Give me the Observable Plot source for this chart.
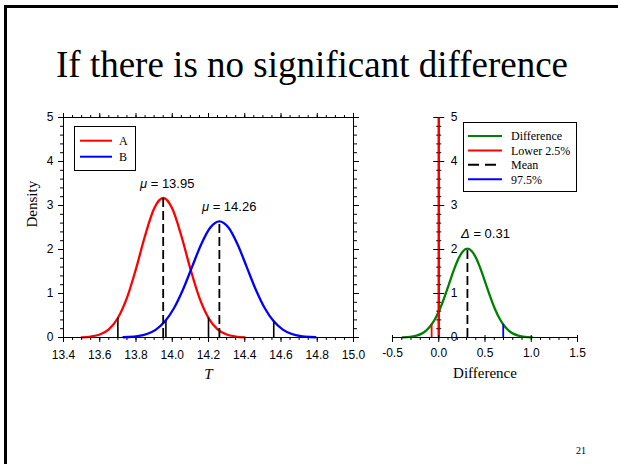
<!DOCTYPE html>
<html><head><meta charset="utf-8">
<script src="https://cdn.jsdelivr.net/npm/d3@7"></script>
<script src="https://cdn.jsdelivr.net/npm/@observablehq/plot@0.6"></script>
<style>
body{margin:0;background:#fff;}
#page{position:relative;width:618px;height:464px;overflow:hidden;background:#fff;font-family:'Liberation Serif','Times New Roman',serif;}
#frame{position:absolute;left:4px;top:5px;width:640px;height:480px;border-top:3px solid #000;border-left:3px solid #000;}
#title{position:absolute;left:3px;width:618px;top:46px;text-align:center;font-size:37px;line-height:37px;color:#000;white-space:nowrap;}
#pnum{position:absolute;left:576px;top:446px;font-size:10px;line-height:10px;color:#000;}
.plot{position:absolute;}
#legend{position:absolute;left:0;top:0;}
svg g[aria-label$="tick label"]{font-size:12px !important;font-family:'Liberation Sans',Arial,sans-serif !important;fill:#000;}
</style></head>
<body><div id="page"><div id="frame"></div><div id="title">If there is no significant difference</div><div id="pnum">21</div></div>
<script>
// ---------- data ----------
// Group A density curve
const aX = [13.50,13.55,13.60,13.65,13.70,13.75,13.80,13.85,13.90,13.95,14.00,14.05,14.10,14.15,14.20,14.25,14.30,14.35,14.40];
const aY = [0.005,0.021,0.067,0.186,0.443,0.899,1.560,2.313,2.930,3.170,2.930,2.313,1.560,0.899,0.443,0.186,0.067,0.021,0.005];
// Group B density curve
const bX = [13.73,13.76,13.81,13.86,13.91,13.96,14.01,14.06,14.11,14.16,14.21,14.26,14.31,14.36,14.41,14.46,14.51,14.56,14.61,14.66,14.71,14.76,14.79];
const bY = [0.006,0.011,0.031,0.079,0.180,0.367,0.671,1.098,1.612,2.120,2.499,2.640,2.499,2.120,1.612,1.098,0.671,0.367,0.180,0.079,0.031,0.011,0.006];
// means (dashed) and 2.5% / 97.5% limits (solid)
const meanX = [13.95, 14.26];
const meanY = [3.17, 2.64];
const ciX = [13.70, 14.20, 13.965, 14.56];
const ciY = [0.445, 0.445, 0.37, 0.37];
const muText = ["μ = 13.95", "μ = 14.26"];
const muX = [13.972, 14.314];
const muY = [3.49, 2.96];
const legendL = ["A", "B"];
const legendLColors = ["#ff0000", "#0000ff"];

// Difference density curve
const dX = [-0.39,-0.34,-0.29,-0.24,-0.19,-0.14,-0.09,-0.04,0.01,0.06,0.11,0.16,0.21,0.26,0.31,0.36,0.41,0.46,0.51,0.56,0.61,0.66,0.71,0.76,0.81,0.86,0.91,0.96,1.01];
const dY = [0.004,0.009,0.020,0.042,0.082,0.151,0.260,0.420,0.637,0.907,1.210,1.514,1.777,1.956,2.020,1.956,1.777,1.514,1.210,0.907,0.637,0.420,0.260,0.151,0.082,0.042,0.020,0.009,0.004];
const dMeanX = [0.31], dMeanY = [2.02];
const dLowerX = [-0.077], dLowerY = [0.30];
const dUpperX = [0.697], dUpperY = [0.30];
const zeroX = [0], zeroTop = [5];
const deltaText = ["Δ = 0.31"], deltaX = [0.505], deltaY = [2.36];
const legendR = ["Difference", "Lower 2.5%", "Mean", "97.5%"];
const legendRColors = ["#008000", "#ff0000", "#000000", "#0000ff"];

// ticks
const xTicksL = [13.4,13.6,13.8,14.0,14.2,14.4,14.6,14.8,15.0];
const xLabelsL = ["13.4","13.6","13.8","14.0","14.2","14.4","14.6","14.8","15.0"];
const yTicks = [0,1,2,3,4,5];
const yLabels = ["0","1","2","3","4","5"];
const xTicksR = [-0.5,0,0.5,1.0,1.5];
const xLabelsR = ["-0.5","0.0","0.5","1.0","1.5"];

// ---------- build ----------
const serif = "'Liberation Serif','Times New Roman',serif";
const sans = "'Liberation Sans',Arial,sans-serif";
const axisStyle = {fontFamily: sans, fontSize: "12px", color: "black", background: "transparent", overflow: "visible"};
const none = () => "";
const minorXL = d3.range(0, 33).map(i => +(13.4 + i * 0.05).toFixed(2));
const minorY = d3.range(0, 26).map(i => +(i * 0.2).toFixed(2));
const minorXR = d3.range(0, 21).map(i => +(-0.5 + i * 0.1).toFixed(2));

const curveA = aX.map((x, i) => ({x, y: aY[i]}));
const curveB = bX.map((x, i) => ({x, y: bY[i]}));
const curveD = dX.map((x, i) => ({x, y: dY[i]}));

const LW = 380, LH = 300;
const left = Plot.plot({
  width: LW, height: LH, marginLeft: 63, marginRight: 27, marginTop: 17, marginBottom: 63,
  x: {domain: [13.4, 15.0]}, y: {domain: [0, 5]},
  style: axisStyle,
  marks: [
    Plot.line(curveA, {x: "x", y: "y", stroke: "#ff0000", strokeWidth: 2.3, curve: "monotone-x"}),
    Plot.line(curveB, {x: "x", y: "y", stroke: "#0000ff", strokeWidth: 2.3, curve: "monotone-x"}),
    Plot.ruleX(meanX, {x: d => d, y1: 0, y2: (d, i) => meanY[i], stroke: "black", strokeWidth: 1.8, strokeDasharray: "9,4"}),
    Plot.ruleX(ciX, {x: d => d, y1: 0, y2: (d, i) => ciY[i], stroke: "black", strokeWidth: 1.6}),
    Plot.text(muText, {x: (d, i) => muX[i], y: (d, i) => muY[i], text: d => d, fontSize: 13, fontFamily: sans, fill: "black"}),
    Plot.frame({stroke: "black"}),
    Plot.axisX({ticks: xTicksL, tickSize: 5, tickPadding: 8, tickFormat: d => xLabelsL[xTicksL.indexOf(d)], label: null}),
    Plot.axisX({ticks: minorXL, tickSize: 3, tickFormat: none, label: null}),
    Plot.axisX({anchor: "top", ticks: xTicksL, tickSize: 5, tickFormat: none, label: null}),
    Plot.axisX({anchor: "top", ticks: minorXL, tickSize: 3, tickFormat: none, label: null}),
    Plot.axisY({ticks: yTicks, tickSize: 5, tickPadding: 5, tickFormat: d => yLabels[yTicks.indexOf(d)], label: null}),
    Plot.axisY({ticks: minorY, tickSize: 3, tickFormat: none, label: null}),
    Plot.axisY({anchor: "right", ticks: yTicks, tickSize: 5, tickFormat: none, label: null}),
    Plot.axisY({anchor: "right", ticks: minorY, tickSize: 3, tickFormat: none, label: null}),
    Plot.text(["Density"], {frameAnchor: "left", dx: -31, rotate: -90, text: d => d, fontFamily: serif, fontSize: 15, fill: "black"}),
    Plot.text(["T"], {frameAnchor: "bottom", dy: 41, text: d => d, fontFamily: serif, fontSize: 15, fontStyle: "italic", fill: "black"})
  ]
});

const RW = 220, RH = 300, RML = 12, RMR = 23, RMT = 17, RMB = 63;
const xDomR = [-0.5, 1.5];
const x0px = RML + (0 - xDomR[0]) / (xDomR[1] - xDomR[0]) * (RW - RML - RMR);
const right = Plot.plot({
  width: RW, height: RH, marginLeft: RML, marginRight: RMR, marginTop: RMT, marginBottom: RMB,
  x: {domain: xDomR}, y: {domain: [0, 5]},
  style: axisStyle,
  marks: [
    Plot.line(curveD, {x: "x", y: "y", stroke: "#008000", strokeWidth: 2.3, curve: "monotone-x"}),
    Plot.ruleX(dMeanX, {x: d => d, y1: 0, y2: (d, i) => dMeanY[i], stroke: "black", strokeWidth: 1.8, strokeDasharray: "9,4"}),
    Plot.ruleX(dLowerX, {x: d => d, y1: 0, y2: (d, i) => dLowerY[i], stroke: "#ff0000", strokeWidth: 1.8}),
    Plot.ruleX(dUpperX, {x: d => d, y1: 0, y2: (d, i) => dUpperY[i], stroke: "#0000ff", strokeWidth: 1.8}),
    Plot.ruleX(zeroX, {x: d => d, y1: 0, y2: (d, i) => zeroTop[i], stroke: "#ff0000", strokeWidth: 2.5}),
    Plot.ruleY([0], {stroke: "black", strokeWidth: 1}),
    Plot.axisX({ticks: xTicksR, tickSize: 5, tickPadding: 6, tickFormat: d => xLabelsR[xTicksR.indexOf(d)], label: null}),
    Plot.axisX({ticks: minorXR, tickSize: 3, tickFormat: none, label: null}),
    Plot.axisX({anchor: "top", ticks: xTicksR, tickSize: 3, tickFormat: none, label: null, dy: RH - RMT - RMB}),
    Plot.axisY({anchor: "right", ticks: yTicks, tickSize: 5, tickPadding: 7, tickFormat: d => yLabels[yTicks.indexOf(d)], label: null, dx: x0px - (RW - RMR)}),
    Plot.axisY({anchor: "left", ticks: yTicks, tickSize: 5, tickFormat: none, label: null, dx: x0px - RML}),
    Plot.axisY({anchor: "right", ticks: minorY, tickSize: 2, tickFormat: none, label: null, dx: x0px - (RW - RMR)}),
    Plot.axisY({anchor: "left", ticks: minorY, tickSize: 2, tickFormat: none, label: null, dx: x0px - RML}),
    Plot.text(deltaText, {x: (d, i) => deltaX[i], y: (d, i) => deltaY[i], text: d => d, fontSize: 13, fontFamily: sans, fill: "black"}),
    Plot.text(["Difference"], {frameAnchor: "bottom", dy: 40, text: d => d, fontFamily: serif, fontSize: 15, fill: "black"})
  ]
});

// italic Greek letters in annotations
for (const svg of [left, right]) {
  d3.select(svg).selectAll("text").each(function() {
    const t = this.textContent;
    if (t.startsWith("μ") || t.startsWith("Δ")) {
      const sym = t[0], rest = t.slice(1);
      this.textContent = "";
      d3.select(this).append("tspan").attr("font-style", "italic").text(sym);
      d3.select(this).append("tspan").text(rest);
    }
  });
}

const page = document.getElementById("page");
left.classList.add("plot"); left.style.left = "0px"; left.style.top = "100px";
right.classList.add("plot"); right.style.left = "380px"; right.style.top = "100px";
page.appendChild(left);
page.appendChild(right);

// legends
const lg = d3.create("svg").attr("id", "legend").attr("width", 618).attr("height", 464);
function legend(g, x, y, w, h, labels, colors, dy0, step, lineX1, lineX2, textX, dashIdx) {
  g.append("rect").attr("x", x).attr("y", y).attr("width", w).attr("height", h)
    .attr("fill", "white").attr("stroke", "black").attr("stroke-width", 1);
  labels.forEach((lab, i) => {
    const yy = y + dy0 + i * step;
    g.append("line").attr("x1", lineX1).attr("x2", lineX2).attr("y1", yy).attr("y2", yy)
      .attr("stroke", colors[i]).attr("stroke-width", 2)
      .attr("stroke-dasharray", i === dashIdx ? "11,6" : null);
    g.append("text").attr("x", textX).attr("y", yy + 4.3).attr("font-family", serif)
      .attr("font-size", 12).attr("fill", "black").text(lab);
  });
}
legend(lg, 74.5, 126.5, 61, 44, legendL, legendLColors, 14.2, 16, 80, 112, 119, -1);
legend(lg, 463.5, 122.5, 113, 69, legendR, legendRColors, 13.5, 14.4, 468, 502, 511, 2);
page.appendChild(lg.node());
</script></body></html>
